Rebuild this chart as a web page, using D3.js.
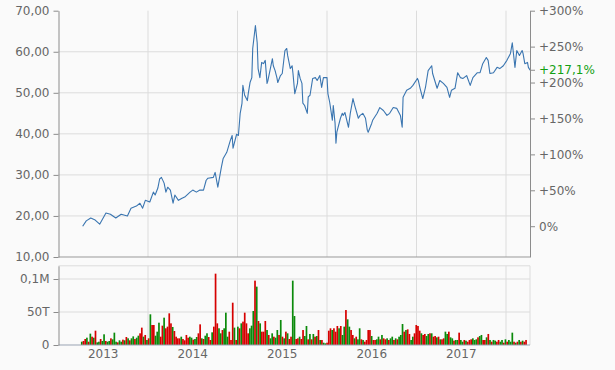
<!DOCTYPE html>
<html><head><meta charset="utf-8">
<script src="https://cdn.jsdelivr.net/npm/d3@7"></script>
<style>
body{margin:0;background:#fafafa;}
svg{display:block;font-family:"DejaVu Sans",Verdana,sans-serif;}
</style>
</head><body>
<svg id="c" width="615" height="370"></svg>
<script>
// ---- data (decimal year, price) ----
const price = [
[2013.27,17.5],[2013.31,18.8],[2013.36,19.5],[2013.41,19.0],[2013.46,18.0],[2013.53,20.7],[2013.58,20.4],[2013.64,19.5],[2013.70,20.4],[2013.77,20.0],
[2013.81,21.9],[2013.87,22.4],[2013.91,23.1],[2013.94,21.9],[2013.97,23.8],[2014.02,23.4],[2014.06,25.8],[2014.08,25.1],[2014.11,26.8],[2014.13,29.0],
[2014.15,29.4],[2014.18,28.0],[2014.20,25.8],[2014.22,27.0],[2014.25,26.3],[2014.28,23.1],[2014.30,25.1],[2014.34,23.8],[2014.38,24.3],[2014.41,24.6],
[2014.47,25.8],[2014.50,26.3],[2014.54,25.8],[2014.58,26.3],[2014.62,26.3],[2014.65,28.7],[2014.67,29.2],[2014.73,29.4],[2014.75,30.6],[2014.78,27.0],
[2014.82,31.9],[2014.84,34.0],[2014.88,35.5],[2014.92,38.4],[2014.94,39.6],[2014.95,36.5],[2014.99,39.9],[2015.01,39.6],[2015.03,45.0],[2015.05,47.4],
[2015.06,51.8],[2015.08,49.4],[2015.11,48.1],[2015.12,49.8],[2015.14,52.5],[2015.16,53.7],[2015.17,60.8],[2015.20,66.4],[2015.22,62.2],[2015.23,55.9],
[2015.25,53.7],[2015.27,57.4],[2015.29,57.1],[2015.31,57.9],[2015.33,52.3],[2015.34,53.0],[2015.39,58.3],[2015.40,56.6],[2015.42,55.4],[2015.44,53.7],
[2015.45,52.5],[2015.48,54.2],[2015.50,54.7],[2015.51,56.6],[2015.53,60.3],[2015.55,60.8],[2015.56,59.1],[2015.59,55.9],[2015.61,56.6],[2015.62,54.7],
[2015.64,49.8],[2015.67,52.3],[2015.68,55.4],[2015.70,53.5],[2015.72,52.3],[2015.73,47.5],[2015.75,46.9],[2015.78,45.0],[2015.79,49.0],[2015.81,49.4],
[2015.84,53.5],[2015.87,53.7],[2015.89,53.0],[2015.92,54.2],[2015.94,51.3],[2015.96,53.7],[2016.00,53.7],[2016.01,49.8],[2016.03,47.7],[2016.06,43.3],
[2016.07,46.9],[2016.09,42.6],[2016.10,37.7],[2016.11,40.4],[2016.15,43.8],[2016.17,45.0],[2016.18,44.5],[2016.20,45.2],[2016.24,41.6],[2016.26,45.0],
[2016.29,48.6],[2016.31,46.9],[2016.35,43.8],[2016.37,44.5],[2016.40,45.0],[2016.43,43.8],[2016.45,40.9],[2016.46,40.4],[2016.50,42.6],[2016.51,43.3],
[2016.56,45.0],[2016.59,46.4],[2016.63,45.7],[2016.67,44.5],[2016.70,45.0],[2016.74,46.4],[2016.78,46.2],[2016.82,44.5],[2016.84,41.6],[2016.85,48.9],
[2016.89,50.6],[2016.93,51.1],[2016.96,51.8],[2017.01,53.5],[2017.02,53.0],[2017.04,51.1],[2017.07,48.6],[2017.10,51.3],[2017.13,55.4],[2017.17,56.6],
[2017.18,54.7],[2017.23,51.1],[2017.26,53.0],[2017.30,52.3],[2017.34,51.3],[2017.37,48.9],[2017.39,50.6],[2017.43,51.1],[2017.46,54.9],[2017.49,53.7],
[2017.52,53.5],[2017.56,54.2],[2017.60,51.8],[2017.63,53.7],[2017.68,54.9],[2017.71,54.9],[2017.74,57.1],[2017.78,58.6],[2017.80,57.9],[2017.82,54.7],
[2017.86,54.9],[2017.90,56.2],[2017.93,55.9],[2017.97,56.6],[2018.01,57.9],[2018.05,59.6],[2018.07,62.2],[2018.10,56.2],[2018.12,60.3],[2018.15,59.1],
[2018.18,60.3],[2018.19,59.6],[2018.21,57.1],[2018.24,57.4],[2018.25,56.2],[2018.27,55.49]
];

// weekly volume, thousands
const volumeK = [
5.0,6.1,9.1,11.1,5.0,17.2,12.6,11.1,21.7,4.0, 5.0,9.1,6.1,16.2,6.1,5.0,6.1,10.1,8.6,18.7,
5.0,4.0,7.1,5.0,8.1,7.1,12.1,10.1,7.1,10.1, 13.1,9.1,11.1,14.1,17.7,26.3,12.6,15.2,7.6,10.1,
46.5,30.3,30.3,14.1,20.2,33.8,12.6,29.3,41.4,25.3, 27.8,48.0,32.8,27.3,21.2,12.6,10.1,10.1,12.6,9.1,
7.1,15.2,11.1,12.6,11.1,8.1,9.1,12.1,17.7,31.3, 10.1,9.1,14.1,17.7,12.1,7.6,19.2,27.8,108.1,32.8,
25.3,17.7,22.7,25.3,49.0,12.6,20.2,7.6,64.1,26.3, 7.6,27.8,25.3,32.8,35.4,49.0,32.8,17.7,25.3,29.3,
51.5,97.5,88.4,36.4,32.8,20.2,20.2,36.4,22.7,15.2, 10.1,17.7,12.6,11.1,22.7,15.2,37.9,12.6,10.1,20.2,
17.7,9.1,12.6,97.5,43.9,9.1,10.1,12.6,9.1,22.7,
13.6,28.8,8.6,16.7,8.6,16.7,12.6,13.6,22.7,7.6, 7.6,3.5,2.5,3.5,21.7,25.3,22.7,25.3,20.2,28.8,
25.3,28.8,15.2,27.8,53.0,38.9,27.8,22.7,15.2,10.1, 12.6,8.6,25.3,8.6,7.6,5.0,7.6,22.7,22.7,13.6,
7.6,7.6,8.6,12.6,8.6,15.2,10.1,8.6,10.1,7.6, 10.1,12.6,7.6,10.1,8.6,12.6,15.2,31.8,20.2,22.7,
23.7,16.7,7.6,12.6,17.7,30.3,28.8,21.7,17.7,15.2, 16.7,13.6,16.7,17.7,17.7,12.6,13.6,11.6,12.6,8.6,
8.6,10.1,20.2,16.7,20.2,11.6,10.1,6.6,7.6,7.6, 18.7,7.6,5.0,7.6,6.6,5.0,7.6,8.6,10.1,7.6,
8.6,11.6,13.6,15.2,7.6,7.6,11.6,16.7,7.6,5.0, 7.6,6.6,5.0,7.6,5.0,7.6,3.5,8.6,5.0,7.6,
5.0,18.7,5.0,3.5,5.0,7.6,5.0,6.6,5.0,7.6
];
// 1 = up week (green), 0 = down week (red)
const volumeUp = [
1,0,0,1,0,1,0,1,0,1, 1,0,1,1,0,1,1,0,1,1, 1,0,1,1,0,1,0,1,0,1, 1,0,1,1,0,0,1,0,1,0,
1,0,0,1,1,1,0,0,1,0, 0,0,0,1,0,0,0,0,1,0, 0,0,0,1,1,0,1,1,0,0, 1,0,1,1,0,0,1,0,0,0,
1,1,0,1,1,1,0,0,0,1, 0,1,0,1,0,0,0,0,1,1, 1,0,1,0,1,0,0,0,1,0, 1,1,0,1,1,0,1,0,1,0,
1,0,0,1,1,0,0,1,0,0,
1,1,0,1,0,1,0,1,0,1, 0,1,1,0,0,0,1,0,0,0, 1,0,1,1,0,1,1,0,0,1, 0,1,1,0,1,0,0,0,0,1,
0,0,1,1,0,1,0,0,1,0, 1,1,0,1,0,1,1,1,0,1, 0,0,1,1,0,0,0,0,1,0, 0,1,1,0,1,0,0,1,0,1,
0,0,1,1,0,1,1,0,1,1, 0,1,1,0,1,0,0,0,1,1, 1,0,1,1,0,0,1,0,1,0, 1,1,0,0,1,1,0,1,0,1,
1,1,0,1,0,1,0,1,0,0
];
const volStartYear = 2013.26;
const priceTicks = [10,20,30,40,50,60,70];
const pctTicks = [0,50,100,150,200,250,300];
const volTicks = [0,50000,100000];
const volTickLabels = ["0","50T","0,1M"];
const yearGrid = [2014,2015,2016,2017,2018];
const yearLabels = [2013,2014,2015,2016,2017];

// ---- layout ----
const svg = d3.select("#c");
const L = 58.5, R = 530, T = 10.7, B = 257, VT = 265.8, VB = 345;
const x = d3.scaleLinear().domain([2013, 2018.268]).range([L, R]);
const y = d3.scaleLinear().domain([10, 70]).range([B, T]);
const base = price[0][1], last = price[price.length-1][1];
const yPct = d3.scaleLinear().domain([(10/base-1)*100, (70/base-1)*100]).range([B, T]);
const yVol = d3.scaleLinear().domain([0, 120000]).range([VB, VT]);
const gridC = "#dcdcdc", axisC = "#8c8c8c", textC = "#666";

// grid main
svg.append("g").selectAll("line").data(priceTicks.filter(d => d > 10 && d < 70)).join("line")
  .attr("x1", L).attr("x2", R).attr("y1", d => y(d)).attr("y2", d => y(d)).attr("stroke", gridC);
svg.append("g").selectAll("line").data(yearGrid).join("line")
  .attr("x1", d => x(d)).attr("x2", d => x(d)).attr("y1", T).attr("y2", B).attr("stroke", gridC);
// grid volume
svg.append("g").selectAll("line").data([50000, 100000, 120000]).join("line")
  .attr("x1", L).attr("x2", R).attr("y1", d => yVol(d)).attr("y2", d => yVol(d)).attr("stroke", gridC);
svg.append("g").selectAll("line").data(yearGrid).join("line")
  .attr("x1", d => x(d)).attr("x2", d => x(d)).attr("y1", VT).attr("y2", VB).attr("stroke", gridC);
svg.append("line").attr("x1", R).attr("x2", R).attr("y1", VT).attr("y2", VB).attr("stroke", gridC);

// volume bars
const volData = volumeK.map((v, i) => ({yr: volStartYear + i * 7 / 365.25, v: v * 1000, up: volumeUp[i]}));
svg.append("g").selectAll("rect").data(volData).join("rect")
  .attr("x", d => x(d.yr) - 0.85).attr("width", 1.7)
  .attr("y", d => yVol(d.v)).attr("height", d => VB - yVol(d.v))
  .attr("fill", d => d.up ? "#0b8a0b" : "#d60000");

// price line
svg.append("path").datum(price)
  .attr("fill", "none").attr("stroke", "#3a75b0").attr("stroke-width", 1.1).attr("stroke-linejoin", "round")
  .attr("d", d3.line().x(d => x(d[0])).y(d => y(d[1])));

// main bottom line
svg.append("line").attr("x1", L).attr("x2", R).attr("y1", B).attr("y2", B).attr("stroke", "#999");
svg.append("line").attr("x1", L).attr("x2", R).attr("y1", VB).attr("y2", VB).attr("stroke", "#99a3b3");

function styleAxis(g) {
  g.selectAll(".domain").attr("stroke", axisC);
  g.selectAll(".tick line").attr("stroke", axisC);
  g.selectAll(".tick text").attr("fill", textC).attr("font-size", 12).attr("font-family", '"DejaVu Sans",Verdana,sans-serif');
}
const fmtPrice = d => d3.format(".2f")(d).replace(".", ",");
svg.append("g").attr("transform", `translate(${L},0)`)
  .call(d3.axisLeft(y).tickValues(priceTicks).tickFormat(fmtPrice).tickSize(5).tickSizeOuter(0).tickPadding(4))
  .call(styleAxis);
svg.append("g").attr("transform", `translate(${R},0)`)
  .call(d3.axisRight(yPct).tickValues(pctTicks).tickFormat(d => d === 0 ? "0%" : "+" + d + "%").tickSize(5).tickSizeOuter(0).tickPadding(4))
  .call(styleAxis);
svg.append("g").attr("transform", `translate(${L},0)`)
  .call(d3.axisLeft(yVol).tickValues(volTicks).tickFormat((d, i) => volTickLabels[i]).tickSize(5).tickSizeOuter(0).tickPadding(4))
  .call(styleAxis);

// last value marker
const lastPct = (last / base - 1) * 100;
svg.append("line").attr("x1", R).attr("x2", R + 5).attr("y1", yPct(lastPct)).attr("y2", yPct(lastPct)).attr("stroke", axisC);
svg.append("text").attr("x", R + 9).attr("y", yPct(lastPct)).attr("dy", "0.32em")
  .attr("font-size", 12).attr("fill", "#12a012")
  .text("+" + d3.format(".1f")(lastPct).replace(".", ",") + "%");

// year labels
svg.append("g").selectAll("text").data(yearLabels).join("text")
  .attr("x", d => x(d + 0.5)).attr("y", 358).attr("text-anchor", "middle")
  .attr("font-size", 12).attr("fill", textC).text(d => d);
</script>
</body></html>
